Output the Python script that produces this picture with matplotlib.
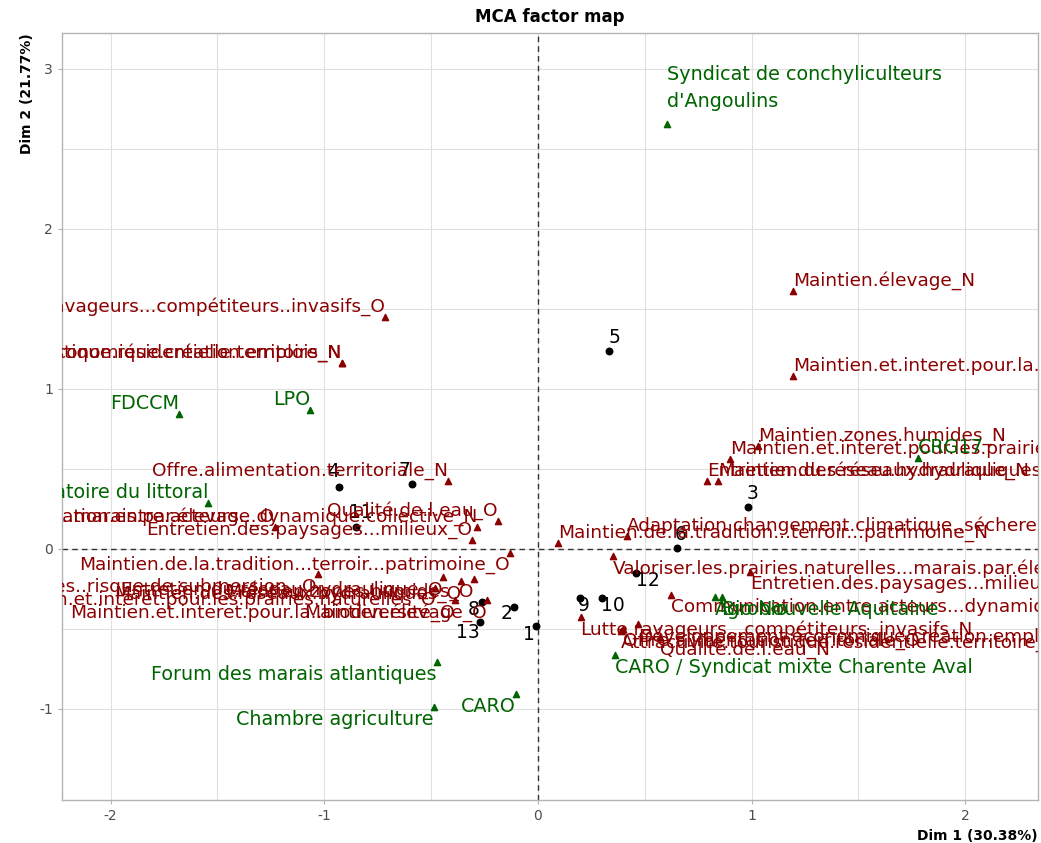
import matplotlib
matplotlib.use("Agg")
import matplotlib.pyplot as plt

plt.rcParams["axes.unicode_minus"] = False

# individuals (black dots)
ind_labels = ["1", "2", "3", "4", "5", "6", "7", "8", "9", "10", "11", "12", "13"]
ind_x = [-0.010, -0.112, 0.983, -0.931, 0.332, 0.650, -0.590, -0.262, 0.197, 0.300, -0.852, 0.459, -0.271]
ind_y = [-0.480, -0.360, 0.263, 0.388, 1.238, 0.006, 0.406, -0.330, -0.306, -0.306, 0.138, -0.150, -0.458]

# active categories (dark red)
var_labels = [
    "Lutte.ravageurs...compétiteurs..invasifs_O",
    "Attractivité.touristique.résidentielle.territoire_N",
    "Développement.économique.création.emplois_N",
    "Offre.alimentation.territoriale_N",
    "Valoriser.les.prairies.naturelles...marais.par.élevage_O",
    "Communication.entre.acteurs...dynamique.collective_N",
    "Qualité.de.l.eau_O",
    "Entretien.des.paysages...milieux_O",
    "Maintien.de.la.tradition...terroir...patrimoine_O",
    "Adaptation.changement.climatique..sécheresses..risque.de.submersion._O",
    "Entretien.du.réseau.hydraulique_O",
    "Maintien.et.interet.pour.les.prairies.naturelles_O",
    "Maintien.zones.humides_O",
    "Maintien.élevage_O",
    "Maintien.et.interet.pour.la..biodiversité_O",
    "Maintien.des.réseaux.hydrauliques_O",
    "Maintien.élevage_N",
    "Maintien.et.interet.pour.la..biodiversité_N",
    "Maintien.zones.humides_N",
    "Maintien.et.interet.pour.les.prairies.naturelles_N",
    "Entretien.du.réseau.hydraulique_N",
    "Maintien.des.réseaux.hydrauliques_N",
    "Adaptation.changement.climatique..sécheresses..risque.de.submersion._N",
    "Maintien.de.la.tradition...terroir...patrimoine_N",
    "Valoriser.les.prairies.naturelles...marais.par.élevage_N",
    "Entretien.des.paysages...milieux_N",
    "Communication.entre.acteurs...dynamique.collective_O",
    "Lutte.ravageurs...compétiteurs..invasifs_N",
    "Qualité.de.l.eau_N",
    "Offre.alimentation.territoriale_O",
    "Attractivité.touristique.résidentielle.territoire_O",
    "Développement.économique.création.emplois_O",
]
var_x = [-0.716, -0.917, -0.917, -0.421, -1.230, -0.285, -0.187, -0.309, -0.131, -1.030,
         -0.445, -0.480, -0.300, -0.240, -0.390, -0.360,
         1.193, 1.193, 1.030, 0.898, 0.790, 0.842, 0.417, 0.094, 0.351, 0.992,
         0.622, 0.200, 0.571, 0.400, 0.390, 0.470]
var_y = [1.450, 1.163, 1.163, 0.425, 0.138, 0.138, 0.175, 0.056, -0.025, -0.156,
         -0.175, -0.244, -0.190, -0.320, -0.320, -0.200,
         1.613, 1.081, 0.644, 0.563, 0.425, 0.425, 0.081, 0.038, -0.044, -0.144,
         -0.288, -0.425, -0.550, -0.500, -0.510, -0.470]

# supplementary categories (dark green)
sup_labels = [
    "Syndicat de conchyliculteurs\nd'Angoulins",
    "FDCCM",
    "LPO",
    "CRG17",
    "Conservatoire du littoral",
    "Agrobio",
    "Bio Nouvelle Aquitaine",
    "CARO / Syndicat mixte Charente Aval",
    "Forum des marais atlantiques",
    "Chambre agriculture",
    "CARO",
]
sup_x = [0.604, -1.680, -1.067, 1.778, -1.544, 0.828, 0.862, 0.360, -0.473, -0.487, -0.103]
sup_y = [2.656, 0.844, 0.869, 0.569, 0.288, -0.300, -0.300, -0.663, -0.706, -0.988, -0.906]

# label offsets for the individuals, in pixels (layout only)
ind_offsets = {
    "1": (-7, -9), "2": (-7, -7), "3": (5, 13), "4": (-6, 15), "5": (6, 13),
    "6": (4, 13), "7": (-7, 13), "8": (-8, -8), "9": (4, -8), "10": (11, -8),
    "11": (5, 14), "12": (12, -8), "13": (-12, -10),
}

red = "#8B0000"
green = "#006400"

fig = plt.figure(figsize=(10.41, 8.43), dpi=100)
ax = fig.add_axes([0.0596, 0.051, 0.9374, 0.910])

ax.set_xlim(-2.227, 2.340)
ax.set_ylim(-1.569, 3.225)
ax.set_xticks([-2, -1, 0, 1, 2])
ax.set_yticks([-1, 0, 1, 2, 3])
ax.set_xticks([-1.5, -0.5, 0.5, 1.5], minor=True)
ax.set_yticks([-0.5, 0.5, 1.5, 2.5], minor=True)
ax.grid(True, which="both", color="#E0E0E0", linewidth=0.8)
ax.set_axisbelow(True)
for s in ax.spines.values():
    s.set_color("#B3B3B3")
    s.set_linewidth(1.0)
ax.tick_params(which="major", colors="#B3B3B3", labelcolor="#4D4D4D", labelsize=10, length=3)
ax.tick_params(which="minor", length=0)

ax.axhline(0, color="#333333", linestyle=(0, (4, 3)), linewidth=1.0, zorder=1)
ax.axvline(0, color="#333333", linestyle=(0, (4, 3)), linewidth=1.0, zorder=1)


def put_labels(xs, ys, labels, color, size):
    for x, y, lab in zip(xs, ys, labels):
        ha = "left" if x > 0 else "right"
        va = "bottom" if y > 0 else "top"
        extra = 12 * lab.count("\n")
        dy = 1 + extra if y > 0 else -3
        ax.annotate(lab, (x, y), xytext=(0, dy), textcoords="offset pixels",
                    ha=ha, va=va, color=color, fontsize=size, clip_on=True,
                    linespacing=1.5, annotation_clip=False, zorder=4)


ax.scatter(ind_x, ind_y, s=22, color="black", zorder=3)
for x, y, lab in zip(ind_x, ind_y, ind_labels):
    dx, dy = ind_offsets[lab]
    ax.annotate(lab, (x, y), xytext=(dx, dy), textcoords="offset pixels",
                ha="center", va="center", color="black", fontsize=13.5, zorder=4)

ax.scatter(var_x, var_y, s=20, marker="^", color=red, zorder=3)
put_labels(var_x, var_y, var_labels, red, 13.3)

ax.scatter(sup_x, sup_y, s=20, marker="^", color=green, zorder=3)
put_labels(sup_x, sup_y, sup_labels, green, 13.8)

ax.set_title("MCA factor map", fontsize=12, fontweight="bold", pad=8)
ax.set_xlabel("Dim 1 (30.38%)", fontsize=10, fontweight="bold", loc="right", labelpad=4)
ax.set_ylabel("Dim 2 (21.77%)", fontsize=10, fontweight="bold", loc="top", labelpad=4)

fig.savefig("out.png", dpi=100)
